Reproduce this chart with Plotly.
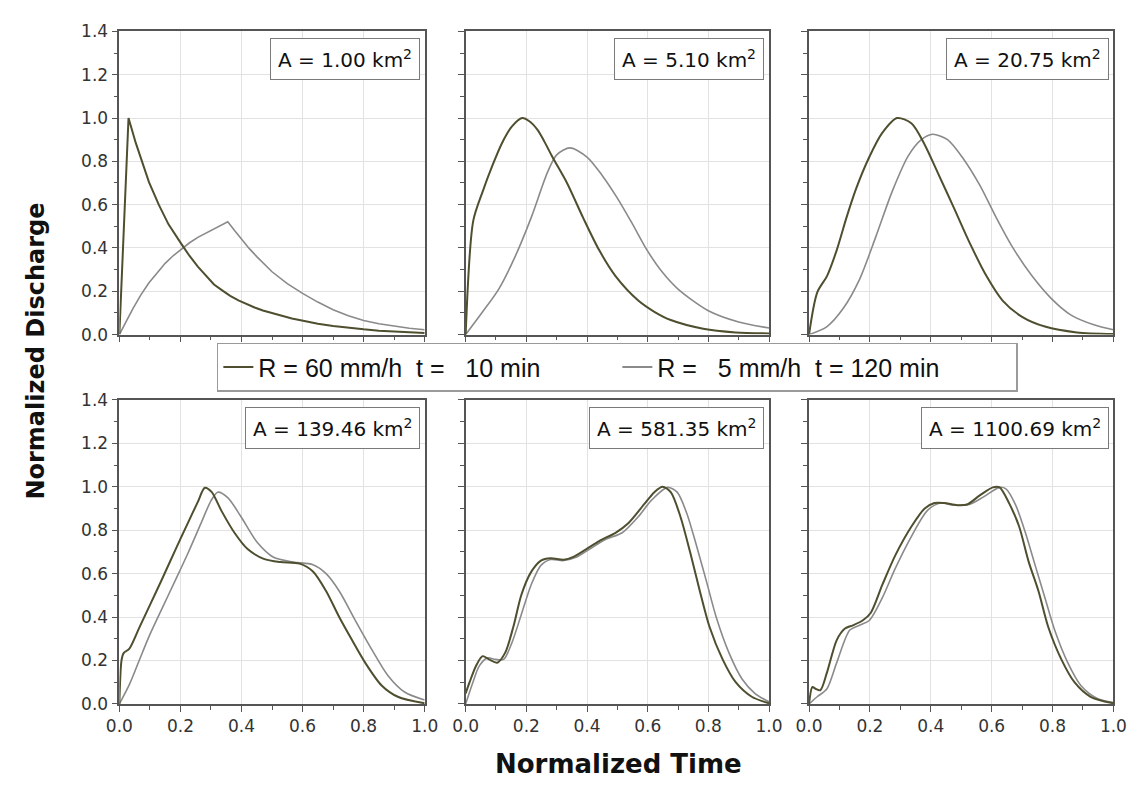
import plotly.graph_objects as go
from plotly.subplots import make_subplots

# ---- hydrograph data: normalized time vs normalized discharge ----
# Catchment areas (km^2), one panel each
areas = ["1.00", "5.10", "20.75", "139.46", "581.35", "1100.69"]
series_names = ["R = 60 mm/h  t =   10 min", "R =   5 mm/h  t = 120 min"]

# A = 1.00 km2
t60_a1 = [0, 0.03, 0.054, 0.076, 0.097, 0.129, 0.161, 0.203, 0.23, 0.257, 0.285, 0.31, 0.338, 0.363, 0.39, 0.416, 0.443, 0.47, 0.52, 0.565, 0.61, 0.65, 0.7, 0.75, 0.8, 0.85, 0.9, 0.95, 1.0]
q60_a1 = [0, 1.0, 0.884, 0.794, 0.704, 0.6, 0.509, 0.419, 0.363, 0.314, 0.27, 0.231, 0.203, 0.179, 0.158, 0.141, 0.125, 0.111, 0.09, 0.074, 0.061, 0.05, 0.04, 0.031, 0.024, 0.018, 0.014, 0.01, 0.007]
t5_a1 = [0, 0.022, 0.044, 0.07, 0.097, 0.125, 0.15, 0.177, 0.203, 0.23, 0.257, 0.285, 0.31, 0.333, 0.355, 0.378, 0.4, 0.425, 0.45, 0.475, 0.5, 0.55, 0.6, 0.65, 0.7, 0.75, 0.8, 0.85, 0.9, 0.95, 1.0]
q5_a1 = [0, 0.062, 0.119, 0.182, 0.239, 0.287, 0.329, 0.365, 0.396, 0.424, 0.449, 0.469, 0.486, 0.503, 0.521, 0.479, 0.44, 0.398, 0.36, 0.323, 0.29, 0.235, 0.19, 0.15, 0.115, 0.087, 0.065, 0.05, 0.038, 0.029, 0.022]

# A = 5.10 km2
t60_a2 = [0, 0.025, 0.056, 0.088, 0.12, 0.152, 0.186, 0.21, 0.237, 0.26, 0.286, 0.334, 0.387, 0.44, 0.494, 0.569, 0.622, 0.676, 0.783, 0.89, 1.0]
q60_a2 = [0, 0.525, 0.66, 0.78, 0.885, 0.96, 1.0, 0.985, 0.945, 0.89, 0.82, 0.70, 0.54, 0.39, 0.27, 0.157, 0.105, 0.067, 0.027, 0.01, 0.005]
t5_a2 = [0, 0.056, 0.109, 0.163, 0.216, 0.27, 0.30, 0.344, 0.4, 0.45, 0.5, 0.55, 0.6, 0.65, 0.7, 0.8, 0.9, 1.0]
q5_a2 = [0, 0.105, 0.21, 0.36, 0.54, 0.75, 0.83, 0.862, 0.82, 0.735, 0.63, 0.51, 0.385, 0.285, 0.21, 0.11, 0.058, 0.03]

# A = 20.75 km2
t60_a3 = [0, 0.027, 0.059, 0.091, 0.123, 0.155, 0.198, 0.24, 0.289, 0.337, 0.38, 0.422, 0.476, 0.529, 0.583, 0.636, 0.70, 0.775, 0.88, 1.0]
q60_a3 = [0, 0.195, 0.27, 0.39, 0.54, 0.675, 0.82, 0.93, 1.0, 0.975, 0.877, 0.75, 0.585, 0.42, 0.27, 0.157, 0.082, 0.037, 0.01, 0.003]
t5_a3 = [0, 0.059, 0.112, 0.166, 0.219, 0.273, 0.326, 0.369, 0.406, 0.455, 0.508, 0.561, 0.615, 0.668, 0.733, 0.797, 0.861, 0.936, 1.0]
q5_a3 = [0, 0.037, 0.12, 0.255, 0.45, 0.66, 0.825, 0.90, 0.925, 0.90, 0.81, 0.69, 0.54, 0.405, 0.27, 0.165, 0.09, 0.045, 0.022]

# A = 139.46 km2
t60_a4 = [0, 0.007, 0.014, 0.033, 0.065, 0.1, 0.14, 0.182, 0.225, 0.257, 0.28, 0.302, 0.334, 0.377, 0.42, 0.473, 0.527, 0.59, 0.634, 0.677, 0.72, 0.762, 0.805, 0.859, 0.912, 1.0]
q60_a4 = [0, 0.2, 0.234, 0.255, 0.35, 0.455, 0.575, 0.705, 0.835, 0.93, 0.995, 0.976, 0.89, 0.788, 0.713, 0.668, 0.653, 0.646, 0.61, 0.52, 0.40, 0.294, 0.19, 0.085, 0.033, 0.003]
t5_a4 = [0, 0.033, 0.065, 0.097, 0.14, 0.182, 0.225, 0.267, 0.3, 0.322, 0.355, 0.398, 0.452, 0.505, 0.57, 0.634, 0.677, 0.72, 0.773, 0.827, 0.88, 0.934, 1.0]
q5_a4 = [0, 0.09, 0.2, 0.31, 0.44, 0.565, 0.695, 0.83, 0.935, 0.975, 0.95, 0.863, 0.743, 0.675, 0.653, 0.641, 0.60, 0.52, 0.384, 0.25, 0.13, 0.055, 0.018]

# A = 581.35 km2
t60_a5 = [0, 0.013, 0.034, 0.056, 0.077, 0.104, 0.13, 0.157, 0.184, 0.216, 0.248, 0.28, 0.323, 0.355, 0.398, 0.44, 0.494, 0.537, 0.59, 0.622, 0.649, 0.676, 0.708, 0.74, 0.772, 0.804, 0.847, 0.89, 0.943, 1.0]
q60_a5 = [0.048, 0.10, 0.175, 0.22, 0.205, 0.19, 0.235, 0.354, 0.504, 0.608, 0.66, 0.671, 0.664, 0.677, 0.713, 0.75, 0.788, 0.833, 0.922, 0.975, 1.0, 0.975, 0.862, 0.698, 0.519, 0.354, 0.205, 0.10, 0.033, 0.003]
t5_a5 = [0, 0.024, 0.045, 0.072, 0.098, 0.125, 0.152, 0.184, 0.216, 0.248, 0.28, 0.323, 0.366, 0.409, 0.462, 0.516, 0.569, 0.612, 0.665, 0.697, 0.729, 0.761, 0.794, 0.826, 0.868, 0.911, 0.954, 1.0]
q5_a5 = [0, 0.10, 0.175, 0.212, 0.205, 0.205, 0.28, 0.414, 0.549, 0.638, 0.665, 0.66, 0.676, 0.713, 0.758, 0.788, 0.862, 0.937, 0.997, 0.975, 0.877, 0.728, 0.563, 0.399, 0.235, 0.115, 0.048, 0.01]

# A = 1100.69 km2
t60_a6 = [0, 0.011, 0.021, 0.037, 0.059, 0.091, 0.118, 0.144, 0.176, 0.203, 0.241, 0.283, 0.337, 0.38, 0.412, 0.444, 0.487, 0.519, 0.561, 0.604, 0.626, 0.658, 0.69, 0.722, 0.754, 0.786, 0.829, 0.872, 0.925, 1.0]
q60_a6 = [0, 0.078, 0.07, 0.063, 0.145, 0.294, 0.347, 0.362, 0.384, 0.42, 0.549, 0.683, 0.818, 0.90, 0.925, 0.925, 0.915, 0.918, 0.96, 0.997, 0.997, 0.922, 0.818, 0.653, 0.519, 0.354, 0.205, 0.10, 0.033, 0.003]
t5_a6 = [0, 0.027, 0.059, 0.091, 0.134, 0.166, 0.198, 0.241, 0.283, 0.337, 0.39, 0.433, 0.476, 0.529, 0.572, 0.626, 0.647, 0.679, 0.711, 0.743, 0.775, 0.807, 0.85, 0.893, 0.947, 1.0]
q5_a6 = [0, 0.033, 0.07, 0.19, 0.34, 0.362, 0.384, 0.489, 0.623, 0.773, 0.892, 0.925, 0.915, 0.92, 0.952, 0.997, 0.99, 0.915, 0.788, 0.638, 0.489, 0.34, 0.19, 0.085, 0.025, 0.006]

x_ticks = [0.0, 0.2, 0.4, 0.6, 0.8, 1.0]
y_ticks = [0.0, 0.2, 0.4, 0.6, 0.8, 1.0, 1.2, 1.4]

panels = [
    (t60_a1, q60_a1, t5_a1, q5_a1),
    (t60_a2, q60_a2, t5_a2, q5_a2),
    (t60_a3, q60_a3, t5_a3, q5_a3),
    (t60_a4, q60_a4, t5_a4, q5_a4),
    (t60_a5, q60_a5, t5_a5, q5_a5),
    (t60_a6, q60_a6, t5_a6, q5_a6),
]

OLIVE = "#4f4f30"
GREY = "#8a8a8a"
AXIS = "#555555"
TICKFONT = dict(family="DejaVu Sans", size=17, color="#333333")

W, H = 1143, 788
# plot-area pixel boxes (left, right) and (top, bottom)
col_px = [(108, 421), (463, 774), (815, 1127)]
row_px = [(22, 333), (400, 712)]

fig = make_subplots(rows=2, cols=3)

for i, (t60, q60, t5, q5) in enumerate(panels):
    r, c = i // 3 + 1, i % 3 + 1
    # the smallest catchment has sharp peaks, so it is drawn with straight segments
    shape = "linear" if i == 0 else "spline"
    fig.add_trace(go.Scatter(x=t5, y=q5, mode="lines", name=series_names[1],
                             line=dict(color=GREY, width=1.6, shape=shape, smoothing=0.8),
                             showlegend=False), row=r, col=c)
    fig.add_trace(go.Scatter(x=t60, y=q60, mode="lines", name=series_names[0],
                             line=dict(color=OLIVE, width=2.0, shape=shape, smoothing=0.8),
                             showlegend=False), row=r, col=c)

# legend entries
fig.add_trace(go.Scatter(x=[None], y=[None], mode="lines",
                         name=series_names[0].replace(" ", "\u00a0"),
                         line=dict(color=OLIVE, width=2), legendrank=1))
fig.add_trace(go.Scatter(x=[None], y=[None], mode="lines",
                         name=series_names[1].replace(" ", "\u00a0"),
                         line=dict(color=GREY, width=2), legendrank=2))

for i in range(6):
    r, c = i // 3, i % 3
    n = i + 1
    sfx = "" if n == 1 else str(n)
    xl, xr = col_px[c]
    yt, yb = row_px[r]
    xdom = [xl / W, xr / W]
    ydom = [1 - yb / H, 1 - yt / H]
    common = dict(showline=True, linecolor=AXIS, linewidth=1.6, mirror=True,
                  ticks="outside", ticklen=6, tickwidth=1.2, tickcolor=AXIS,
                  showgrid=True, gridcolor="#e2e2e2", gridwidth=1, zeroline=False,
                  tickfont=TICKFONT, tickformat=".1f")
    minor = dict(dtick=0.1, ticks="outside", ticklen=4, tickwidth=1.2,
                 tickcolor=AXIS, showgrid=False)
    fig.update_layout(**{
        f"xaxis{sfx}": dict(domain=xdom, range=[0, 1], tickvals=x_ticks,
                            showticklabels=(r == 1), minor=minor, **common),
        f"yaxis{sfx}": dict(domain=ydom, range=[0, 1.4], tickvals=y_ticks,
                            showticklabels=(c == 0), minor=minor, **common),
    })
    fig.add_annotation(
        text=f"A = {areas[i]} km<sup>2</sup>",
        xref=f"x{sfx} domain", yref=f"y{sfx} domain",
        x=0.985, y=0.978, xanchor="right", yanchor="top", showarrow=False,
        font=dict(family="DejaVu Sans", size=20, color="#111111"),
        bgcolor="white", bordercolor="#7a7a7a", borderwidth=1, borderpad=7,
    )

# axis titles
fig.add_annotation(text="<b>Normalized Discharge</b>", xref="paper", yref="paper",
                   x=23 / W, y=1 - 350 / H, textangle=-90, showarrow=False,
                   xanchor="center", yanchor="middle",
                   font=dict(family="DejaVu Sans", size=24, color="#111111"))
fig.add_annotation(text="<b>Normalized Time</b>", xref="paper", yref="paper",
                   x=620 / W, y=1 - 774 / H, showarrow=False,
                   xanchor="center", yanchor="middle",
                   font=dict(family="DejaVu Sans", size=26, color="#111111"))

fig.update_layout(
    width=W, height=H,
    margin=dict(l=0, r=0, t=0, b=0),
    paper_bgcolor="white", plot_bgcolor="white",
    showlegend=True,
    legend=dict(orientation="h", x=618.5 / W, y=1 - 366.5 / H,
                xanchor="center", yanchor="middle",
                bgcolor="white", bordercolor="#9a9a9a", borderwidth=1.5,
                font=dict(family="Liberation Sans, Arial", size=25, color="#111111"),
                entrywidth=354, entrywidthmode="pixels",
                traceorder="normal"),
)

fig.write_html("out.html")
